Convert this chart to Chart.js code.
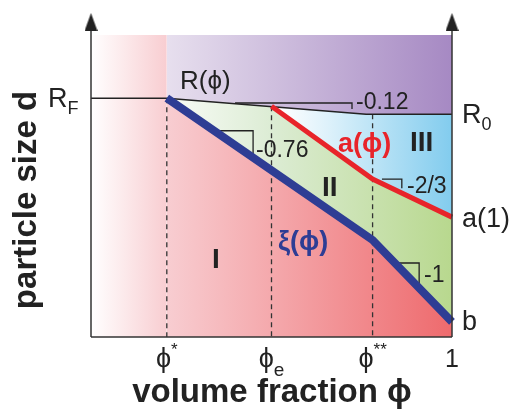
<!DOCTYPE html>
<html>
<head>
<meta charset="utf-8">
<script src="https://cdn.jsdelivr.net/npm/chart.js@4"></script>
<style>
  html, body { margin: 0; padding: 0; background: #fff; }
  #wrap { width: 516px; height: 411px; }
</style>
</head>
<body>
<div id="wrap"><canvas id="myChart"></canvas></div>
<script>
// positions on the volume fraction axis
const phiStar = 0.21;
const phiE = 0.5;
const phiStarStar = 0.78;
const tickValues = [phiStar, phiE, phiStarStar, 1];

// particle size, as a fraction of the plot height
const rF = 0.791;
const r0 = 0.738;

// R(phi)
const rLine = [
  { x: 0, y: 0.791 },
  { x: 0.21, y: 0.791 },
  { x: 0.762, y: 0.738 },
  { x: 1, y: 0.738 },
];
// xi(phi)
const xiLine = [
  { x: 0.21, y: 0.791 },
  { x: 0.78, y: 0.321 },
  { x: 1, y: 0.05 },
];
// a(phi)
const aLine = [
  { x: 0.5, y: 0.764 },
  { x: 0.78, y: 0.523 },
  { x: 1, y: 0.397 },
];

// slope markers
const slope012 = [{ x: 0.399, y: 0.775 }, { x: 0.723, y: 0.775 }, { x: 0.723, y: 0.755 }];
const slope076 = [{ x: 0.343, y: 0.683 }, { x: 0.449, y: 0.683 }, { x: 0.449, y: 0.603 }];
const slope23 = [{ x: 0.806, y: 0.523 }, { x: 0.861, y: 0.523 }, { x: 0.861, y: 0.493 }];
const slope1 = [{ x: 0.842, y: 0.245 }, { x: 0.909, y: 0.245 }, { x: 0.909, y: 0.166 }];

const yTop = 1.073;
const FONT = "'Liberation Sans', Arial, 'DejaVu Sans', sans-serif";

// region boundaries built from the lines above
const leftColumn = [{ x: 0, y: 1 }, { x: phiStar, y: 1 }];
const rRight = rLine.filter((p) => p.x >= phiStar);
const greenTop = rLine.filter((p) => p.x >= phiStar && p.x < phiE).concat(aLine);

const gradient = (stops) => (ctx) => {
  const chart = ctx.chart;
  if (!chart.chartArea) return null;
  const xs = chart.scales.x;
  const x0 = xs.getPixelForValue(0);
  const x1 = xs.getPixelForValue(1);
  const g = chart.ctx.createLinearGradient(x0, 0, x1, 0);
  stops.forEach(([v, c]) => g.addColorStop(v, c));
  return g;
};

const pink = gradient([[0, "#ffffff"], [0.21, "#f8cdd1"], [1, "#ee6a6d"]]);
const purple = gradient([[0, "#efe9f3"], [0.21, "#e7dfee"], [1, "#a689c3"]]);
const green = gradient([[0, "#ffffff"], [0.21, "#f9fcf7"], [0.5, "#dcecd4"], [1, "#b8d88e"]]);
const blue = gradient([[0, "#ffffff"], [0.52, "#ffffff"], [0.65, "#dff2fb"], [1, "#82ccee"]]);

const arrowHead = document.createElement("canvas");
arrowHead.width = 13;
arrowHead.height = 18;
(() => {
  const c = arrowHead.getContext("2d");
  c.fillStyle = "#222";
  c.beginPath();
  c.moveTo(0, 18);
  c.lineTo(6.5, 0);
  c.lineTo(13, 18);
  c.closePath();
  c.fill();
})();

const area = (data, fill, bg, order) => ({
  data, fill, backgroundColor: bg, borderWidth: 0, pointRadius: 0, order, clip: false,
});
const line = (data, color, width, order, dash) => ({
  data, fill: false, borderColor: color, borderWidth: width, borderDash: dash || [],
  pointRadius: 0, order, clip: false, borderCapStyle: "butt", borderJoinStyle: "miter",
});

const texts = [
  { x: 180, y: 89, parts: [["R(", 26], ["ϕ", 26], [")", 26]] },
  { x: 48, y: 107, parts: [["R", 27], ["F", 18, 0, 7]] },
  { x: 462, y: 123, parts: [["R", 27], ["0", 18, 0, 7]] },
  { x: 462, y: 227, parts: [["a(1)", 27]] },
  { x: 462, y: 330, parts: [["b", 27]] },
  { x: 356, y: 109, parts: [["-0.12", 23]] },
  { x: 256, y: 157, parts: [["-0.76", 23]] },
  { x: 407, y: 193, parts: [["-2/3", 23]] },
  { x: 424, y: 282, parts: [["-1", 23]] },
  { x: 338, y: 152, parts: [["a(ϕ)", 27, 1]], color: "#e8242a" },
  { x: 278, y: 250, parts: [["ξ(ϕ)", 27, 1]], color: "#2e3d94" },
  { x: 410, y: 151, parts: [["III", 28, 1]] },
  { x: 322, y: 196, parts: [["II", 28, 1]] },
  { x: 212, y: 268, parts: [["I", 28, 1]] },
];
const tickTexts = [
  [["ϕ", 27], ["*", 17, 0, -12]],
  [["ϕ", 27], ["e", 19, 0, 9]],
  [["ϕ", 27], ["**", 17, 0, -12]],
  [["1", 25]],
];

const drawParts = (ctx, x, y, parts, align, color) => {
  ctx.fillStyle = color || "#222";
  ctx.textBaseline = "alphabetic";
  ctx.textAlign = "left";
  const fontOf = (p) => (p[2] ? "bold " : "") + p[1] + "px " + FONT;
  let total = 0;
  parts.forEach((p) => { ctx.font = fontOf(p); total += ctx.measureText(p[0]).width; });
  let cx = align === "center" ? x - total / 2 : x;
  parts.forEach((p) => {
    ctx.font = fontOf(p);
    ctx.fillText(p[0], cx, y + (p[3] || 0));
    cx += ctx.measureText(p[0]).width;
  });
};

const textPlugin = {
  id: "texts",
  afterDraw(chart) {
    const ctx = chart.ctx;
    ctx.save();
    texts.forEach((t) => drawParts(ctx, t.x, t.y, t.parts, "left", t.color));
    tickValues.forEach((v, i) => {
      drawParts(ctx, chart.scales.x.getPixelForValue(v), 367, tickTexts[i], "center");
    });
    drawParts(ctx, 272, 402, [["volume fraction ϕ", 33, 1]], "center");
    ctx.translate(36, 200);
    ctx.rotate(-Math.PI / 2);
    drawParts(ctx, 0, 0, [["particle size d", 33, 1]], "center");
    ctx.restore();
  },
};

new Chart(document.getElementById("myChart").getContext("2d"), {
  type: "line",
  data: {
    datasets: [
      area(leftColumn, "start", pink, 20),
      area(rRight, { value: 1 }, purple, 19),
      area(rRight, "start", blue, 18),
      area(greenTop, "start", green, 17),
      area(xiLine, "start", pink, 16),
      line([{ x: phiStar, y: rF }, { x: phiStar, y: 0 }], "#333", 1.3, 10, [5, 4]),
      line([{ x: phiE, y: aLine[0].y }, { x: phiE, y: 0 }], "#333", 1.3, 10, [5, 4]),
      line([{ x: phiStarStar, y: r0 }, { x: phiStarStar, y: 0 }], "#333", 1.3, 10, [5, 4]),
      line(rLine, "#222", 1.5, 9),
      line(slope012, "#222", 1.3, 9),
      line(slope076, "#222", 1.3, 9),
      line(slope23, "#222", 1.3, 9),
      line(slope1, "#222", 1.3, 9),
      line(aLine, "#e8242a", 5, 8),
      line(xiLine, "#2e3d94", 8, 7),
      line([{ x: 0, y: 0 }, { x: 0, y: 1.03 }], "#333", 1.5, 5),
      line([{ x: 1, y: 0 }, { x: 1, y: 1.03 }], "#333", 1.5, 5),
      line([{ x: 0, y: 0 }, { x: 1, y: 0 }], "#333", 1.5, 5),
      {
        data: [{ x: 0, y: 1.043 }, { x: 1, y: 1.043 }],
        showLine: false, pointStyle: arrowHead, pointRadius: 9, order: 1, clip: false,
      },
    ],
  },
  options: {
    responsive: true,
    maintainAspectRatio: false,
    animation: false,
    layout: { padding: { left: 91, right: 64, top: 13, bottom: 74 } },
    elements: { line: { tension: 0 } },
    scales: {
      x: { type: "linear", min: 0, max: 1, display: false },
      y: { type: "linear", min: 0, max: yTop, display: false },
    },
    plugins: { legend: { display: false }, tooltip: { enabled: false } },
  },
  plugins: [textPlugin],
});
</script>
</body>
</html>
